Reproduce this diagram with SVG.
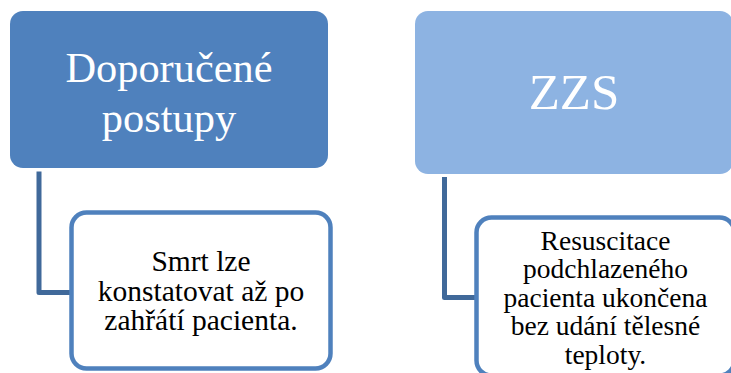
<svg xmlns="http://www.w3.org/2000/svg" width="731" height="373" viewBox="0 0 731 373">
<style>
.parent{fill:#4F81BD;}
.parent2{fill:#8DB3E2;}
.child{fill:#FFFFFF;stroke:#4F81BD;stroke-width:4.5;}
.conn{fill:none;stroke:#40699A;stroke-width:5;stroke-linejoin:round;}
.ptext{font-family:'Liberation Serif', serif;fill:#FFFFFF;text-anchor:middle;}
.ctext{font-family:'Liberation Serif', serif;fill:#000000;text-anchor:middle;}
</style>
<rect width="731" height="373" fill="#FFFFFF"/>
<g id="connectors">
<path class="conn" d="M39,171.5 V292.5 H72"/>
<path class="conn" d="M444.5,177 V297.5 H477"/>
</g>
<g id="node-doporucene">
<rect class="parent" x="10" y="11" width="318" height="157" rx="13" ry="13"/>
<text class="ptext" font-size="42.4"><tspan x="169" y="82">Doporučené</tspan><tspan x="169" y="132">postupy</tspan></text>
</g>
<g id="node-zzs">
<rect class="parent2" x="415" y="11" width="318" height="163" rx="13" ry="13"/>
<text class="ptext" font-size="51" x="574" y="109">ZZS</text>
</g>
<g id="node-smrt">
<rect class="child" x="71.5" y="212.5" width="259" height="156" rx="15" ry="15"/>
<text class="ctext" font-size="29.5"><tspan x="201" y="271">Smrt lze</tspan><tspan x="201" y="300.5">konstatovat až po</tspan><tspan x="201" y="330">zahřátí pacienta.</tspan></text>
</g>
<g id="node-resuscitace">
<rect class="child" x="476.5" y="217.5" width="258" height="158" rx="15" ry="15"/>
<text class="ctext" font-size="27.5"><tspan x="605.5" y="249.5">Resuscitace</tspan><tspan x="605.5" y="278">podchlazeného</tspan><tspan x="605.5" y="306.5">pacienta ukončena</tspan><tspan x="605.5" y="335">bez udání tělesné</tspan><tspan x="605.5" y="363.5">teploty.</tspan></text>
</g>
</svg>
